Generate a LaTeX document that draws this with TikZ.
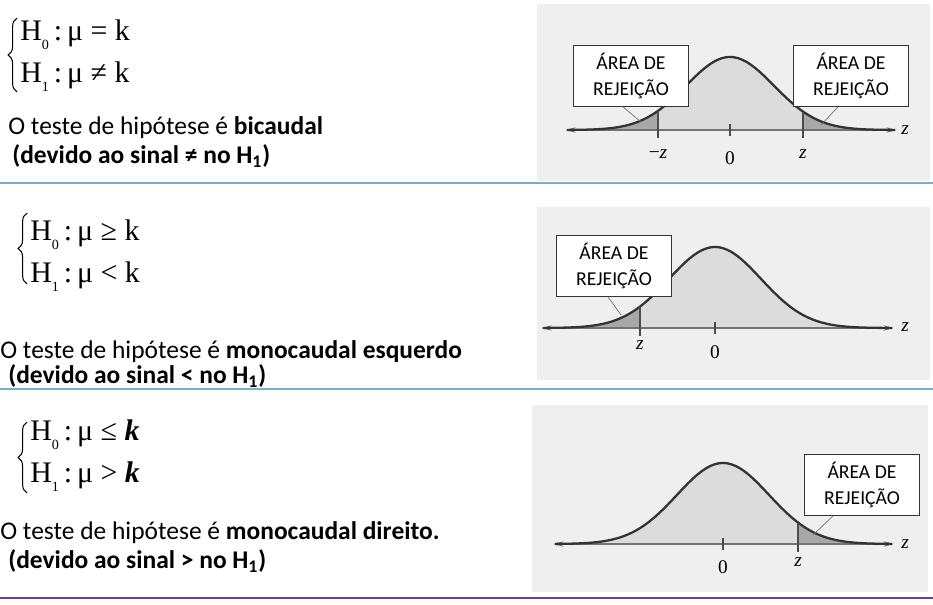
\documentclass[tikz,border=0pt]{standalone}
\usepackage{fontspec}
\setmainfont{Carlito}
\newfontfamily\tmsfont{Liberation Serif}
\usetikzlibrary{arrows.meta, decorations.pathreplacing}
\definecolor{rulerblue}{HTML}{7BAFC9}
\definecolor{rulerpurple}{HTML}{6B3FA0}
\definecolor{photobg}{HTML}{EFEFEF}
\definecolor{bodygray}{HTML}{DCDCDC}
\definecolor{tailgray}{HTML}{A8A8A8}
\newcommand\hypsub[1]{\raisebox{-0.3em}{\fontsize{8}{8}\selectfont #1}}
\tikzset{
	hyptext/.style={
			anchor=west,
			inner sep=0pt,
			align=left,
			font=\tmsfont\fontsize{17}{23.8}\selectfont
		},
	hypbrace/.style={
			draw=black,
			line width=0.6pt,
			decorate,
			decoration={brace, amplitude=5pt}
		},
	bodytext/.style={
			anchor=west,
			inner sep=0pt,
			font=\fontsize{14.5}{17}\selectfont
		},
	areabox/.style={
			draw=black!80,
			fill=white,
			thin,
			align=center,
			inner sep=2pt,
			minimum width=2.3cm,
			minimum height=1.22cm,
			font=\fontsize{11.2}{14.8}\selectfont
		},
	ticklabel/.style={
			inner sep=0pt,
			font=\tmsfont\fontsize{11}{13}\selectfont
		},
	photo/.style={
			fill=photobg,
			draw=none
		},
	bellcurve/.style={
			draw=black!80,
			line width=1.3pt
		},
	zaxis/.style={
			draw=black!55,
			line width=0.8pt,
			{Stealth[length=6pt,width=3pt]}-{Stealth[length=6pt,width=3pt]}
		},
	ztick/.style={
			draw=black!70,
			line width=0.6pt
		},
	leader/.style={
			draw=black!55,
			line width=0.4pt
		},
	sepline/.style={
			line width=1.3pt
		}
}

\begin{document}
\begin{tikzpicture}[x=0.02cm, y=-0.02cm,
  declare function={
    bellA(\x)=130-73*exp(-0.5*((\x-730)/44)^2);
    bellB(\x)=328-81*exp(-0.5*((\x-715)/46)^2);
    bellC(\x)=544-81*exp(-0.5*((\x-723)/46)^2);
  }]
\useasboundingbox (0,0) rectangle (933,605);

% bicaudal
\draw[hypbrace] (17,92) -- (17,18);
\node[hyptext] (hypA) at (20,56) {H\hypsub{0}\,:\,μ = k\\H\hypsub{1}\,:\,μ ≠ k};
\node[bodytext] (textA1) at (8,128) {O teste de hipótese é \textbf{bicaudal}};
\node[bodytext] (textA2) at (12,156) {\textbf{(devido ao sinal ≠ no H\textsubscript{1})}};

\fill[photo] (537,4) rectangle (930,181);
\fill[bodygray] plot[domain=567:895, samples=120] (\x,{bellA(\x)}) -- cycle;
\fill[tailgray] plot[domain=567:658, samples=40] (\x,{bellA(\x)}) -- (658,130) -- cycle;
\fill[tailgray] plot[domain=803:895, samples=40] (\x,{bellA(\x)}) -- (803,130) -- cycle;
\coordinate (axAl) at (565,130);
\coordinate (axAr) at (897,130);
\draw[zaxis] (axAl) -- (axAr);
\draw[bellcurve] plot[domain=567:895, samples=120] (\x,{bellA(\x)});
\draw[ztick] (658,{bellA(658)}) -- (658,138);
\draw[ztick] (803,{bellA(803)}) -- (803,138);
\draw[ztick] (730,124) -- (730,136);
\node[ticklabel] (zAr) at (905,130) {\textit{z}};
\node[ticklabel] (mzA) at (658,154) {−\textit{z}};
\node[ticklabel] (zeroA) at (730,158) {0};
\node[ticklabel] (zA) at (803,154) {\textit{z}};
\node[areabox] (boxAL) at (631,76) {ÁREA DE\\REJEIÇÃO};
\node[areabox] (boxAR) at (851,76) {ÁREA DE\\REJEIÇÃO};
\coordinate (tailAL) at (641,122);
\coordinate (tailAR) at (821,125);
\draw[leader] ([xshift=-0.16cm]boxAL.south) -- (tailAL);
\draw[leader] ([xshift=-0.26cm]boxAR.south) -- (tailAR);

\draw[sepline, rulerblue] (0,183) -- (933,183);

% monocaudal esquerdo
\draw[hypbrace] (27,284) -- (27,213);
\node[hyptext] (hypB) at (30,256) {H\hypsub{0}\,:\,μ ≥ k\\H\hypsub{1}\,:\,μ < k};
\node[bodytext] (textB1) at (0,352) {O teste de hipótese é \textbf{monocaudal esquerdo}};
\node[bodytext] (textB2) at (8,376) {\textbf{(devido ao sinal < no H\textsubscript{1})}};

\fill[photo] (537,207) rectangle (930,380);
\fill[bodygray] plot[domain=543:892, samples=120] (\x,{bellB(\x)}) -- cycle;
\fill[tailgray] plot[domain=543:640, samples=40] (\x,{bellB(\x)}) -- (640,328) -- cycle;
\coordinate (axBl) at (541,328);
\coordinate (axBr) at (894,328);
\draw[zaxis] (axBl) -- (axBr);
\draw[bellcurve] plot[domain=543:892, samples=120] (\x,{bellB(\x)});
\draw[ztick] (640,{bellB(640)}) -- (640,336);
\draw[ztick] (715,322) -- (715,334);
\node[ticklabel] (zBr) at (905,327) {\textit{z}};
\node[ticklabel] (zB) at (640,345) {\textit{z}};
\node[ticklabel] (zeroB) at (715,352) {0};
\node[areabox] (boxB) at (614,266) {ÁREA DE\\REJEIÇÃO};
\coordinate (tailB) at (621,315);
\draw[leader] ([xshift=-0.12cm]boxB.south) -- (tailB);

\draw[sepline, rulerblue] (0,389) -- (933,389);

% monocaudal direito
\draw[hypbrace] (27,493) -- (27,422);
\node[hyptext] (hypC) at (30,456) {H\hypsub{0}\,:\,μ ≤ \textbf{\textit{k}}\\H\hypsub{1}\,:\,μ > \textbf{\textit{k}}};
\node[bodytext] (textC1) at (0,533) {O teste de hipótese é \textbf{monocaudal direito.}};
\node[bodytext] (textC2) at (8,561) {\textbf{(devido ao sinal > no H\textsubscript{1})}};

\fill[photo] (532,405) rectangle (928,592);
\fill[bodygray] plot[domain=555:892, samples=120] (\x,{bellC(\x)}) -- cycle;
\fill[tailgray] plot[domain=798:892, samples=40] (\x,{bellC(\x)}) -- (798,544) -- cycle;
\coordinate (axCl) at (553,544);
\coordinate (axCr) at (894,544);
\draw[zaxis] (axCl) -- (axCr);
\draw[bellcurve] plot[domain=555:892, samples=120] (\x,{bellC(\x)});
\draw[ztick] (798,{bellC(798)}) -- (798,552);
\draw[ztick] (723,538) -- (723,550);
\node[ticklabel] (zCr) at (905,544) {\textit{z}};
\node[ticklabel] (zeroC) at (723,567) {0};
\node[ticklabel] (zC) at (798,562) {\textit{z}};
\node[areabox] (boxC) at (862,485) {ÁREA DE\\REJEIÇÃO};
\coordinate (tailC) at (813,535);
\draw[leader] ([xshift=-0.58cm]boxC.south) -- (tailC);

\draw[sepline, rulerpurple] (0,598) -- (933,598);
\end{tikzpicture}
\end{document}
